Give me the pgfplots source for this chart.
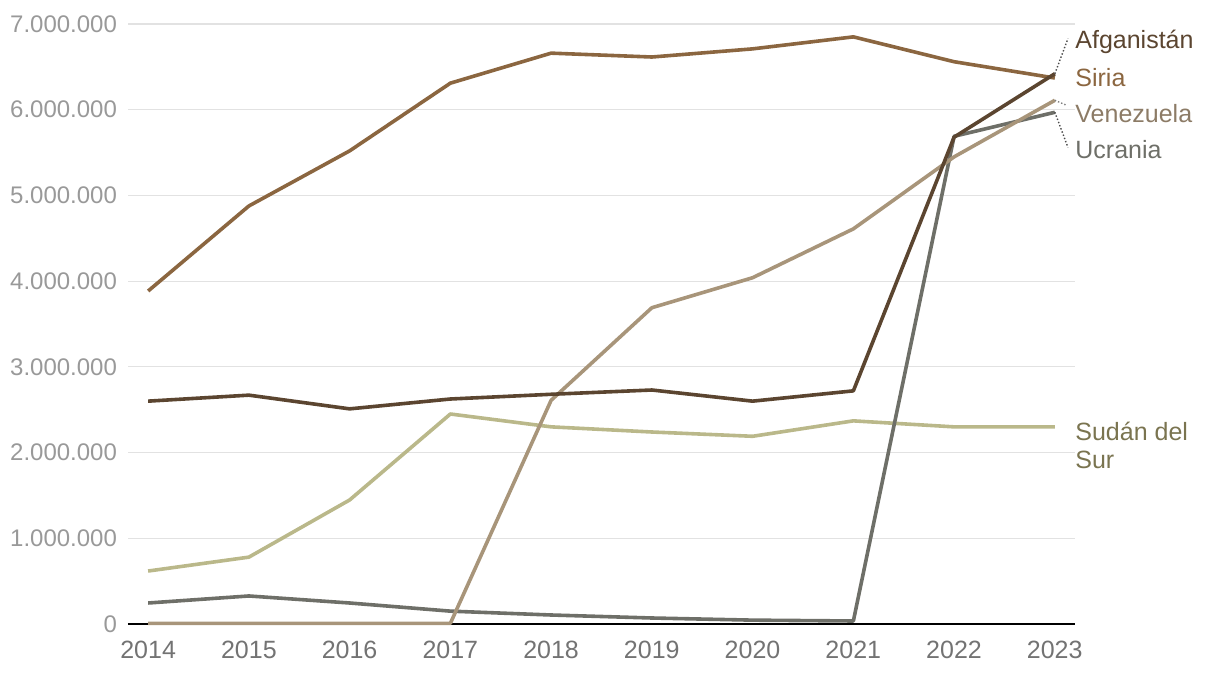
\documentclass[border=0pt]{standalone}
\usepackage{fontspec}
\setmainfont{Liberation Sans}
\usepackage{pgfplots}
\pgfplotsset{compat=1.18}

\definecolor{siria}{HTML}{8B6640}
\definecolor{afgan}{HTML}{5B4530}
\definecolor{venez}{HTML}{A8957A}
\definecolor{ucran}{HTML}{6E6F68}
\definecolor{sudan}{HTML}{BAB88A}
\definecolor{sudantxt}{HTML}{7A7450}
\definecolor{venztxt}{HTML}{8C7B66}
\definecolor{gridc}{HTML}{E2E2E2}

\begin{document}
\begin{tikzpicture}
  \path[use as bounding box] (-64pt,-25pt) rectangle (546pt,312pt);
  \begin{axis}[
      at={(0,0)}, anchor=south west,
      scale only axis,
      width=473.5pt, height=300pt,
      xmin=2013.8, xmax=2023.2,
      ymin=0, ymax=7000000,
      axis x line=bottom, axis y line=left,
      x axis line style={black, line width=0.8pt, -},
      y axis line style={draw=none},
      xtick={2014,...,2023},
      ytick={0,1000000,...,7000000},
      major tick length=0pt,
      ymajorgrids,
      grid style={gridc, line width=0.6pt},
      scaled y ticks=false,
      /pgf/number format/.cd, fixed, precision=0, 1000 sep={.}, assume math mode=true,
      /pgfplots/.cd,
      x tick label style={/pgf/number format/1000 sep={}, text=black!55, font=\fontsize{12.5}{14}\selectfont, yshift=-5pt},
      y tick label style={text=black!40, font=\fontsize{12}{14}\selectfont, xshift=-2pt},
      yticklabel style={anchor=east},
      every axis plot/.append style={line width=1.8pt, mark=none, line join=round},
      clip=false,
    ]
    % Sudán del Sur
    \addplot[sudan] coordinates {(2014,618000) (2015,780000) (2016,1447000) (2017,2450000) (2018,2300000) (2019,2240000) (2020,2190000) (2021,2370000) (2022,2300000) (2023,2300000)};
    % Ucrania
    \addplot[ucran] coordinates {(2014,245000) (2015,327000) (2016,245000) (2017,150000) (2018,105000) (2019,70000) (2020,45000) (2021,35000) (2022,5690000) (2023,5970000)};
    % Venezuela
    \addplot[venez] coordinates {(2014,8000) (2015,8000) (2016,8000) (2017,8000) (2018,2610000) (2019,3690000) (2020,4040000) (2021,4610000) (2022,5450000) (2023,6110000)};
    % Siria
    \addplot[siria] coordinates {(2014,3885000) (2015,4877000) (2016,5520000) (2017,6310000) (2018,6660000) (2019,6615000) (2020,6710000) (2021,6850000) (2022,6560000) (2023,6370000)};
    % Afganistán
    \addplot[afgan] coordinates {(2014,2600000) (2015,2670000) (2016,2510000) (2017,2625000) (2018,2680000) (2019,2730000) (2020,2600000) (2021,2720000) (2022,5680000) (2023,6420000)};

    % leaders
    \draw[black!70, densely dotted, line width=0.7pt] (axis cs:2023,6420000) -- (axis cs:2023.13,6830000);
    \draw[black!50, densely dotted, line width=0.7pt] (axis cs:2023,6110000) -- (axis cs:2023.12,6050000);
    \draw[black!70, densely dotted, line width=0.7pt] (axis cs:2023,5970000) -- (axis cs:2023.13,5560000);

    \begin{scope}[every node/.style={anchor=west, inner sep=0pt, font=\fontsize{12.5}{14}\selectfont}]
      \node[text=afgan] at (axis cs:2023.2,6790000) {Afganistán};
      \node[text=siria] at (axis cs:2023.2,6370000) {Siria};
      \node[text=venztxt] at (axis cs:2023.2,5950000) {Venezuela};
      \node[text=ucran] at (axis cs:2023.2,5530000) {Ucrania};
      \node[text=sudantxt, align=left, anchor=north west] at (axis cs:2023.2,2360000) {Sudán del\\[0pt]Sur};
    \end{scope}
  \end{axis}
\end{tikzpicture}
\end{document}
